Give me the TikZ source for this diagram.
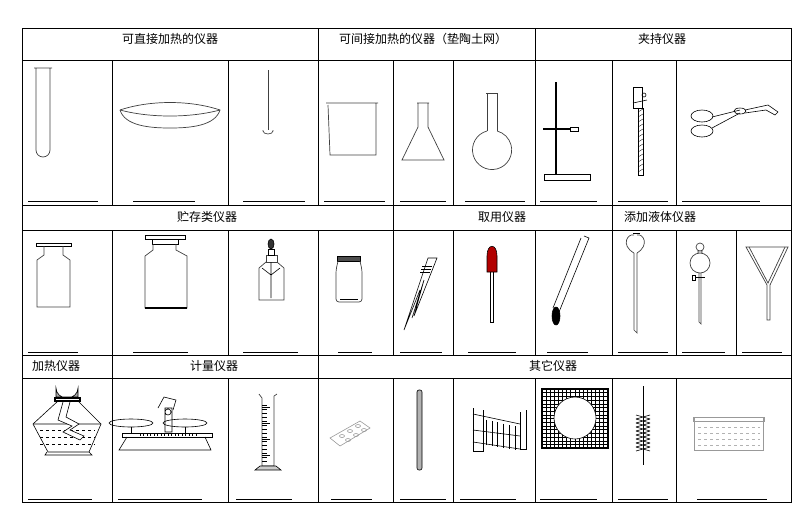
\documentclass[tikz,border=0pt]{standalone}
\usepackage{fontspec}
\setmainfont{Noto Sans CJK SC}
\begin{document}
\begin{tikzpicture}[x=1pt,y=-1pt,line width=0.6pt,
  grid/.style={line width=0.8pt},
  hd/.style={font=\fontsize{12}{14}\selectfont,inner sep=0pt},
  ans/.style={line width=0.6pt},
  glass/.style={line width=0.7pt,draw=black!75}]
\useasboundingbox (0,0) rectangle (810,528);
% table
\draw[grid] (22,28) rectangle (791,502);
\foreach \y in {60,205,230,355,378} \draw[grid] (22,\y) -- (791,\y);
\foreach \x in {318,535} \draw[grid] (\x,28) -- (\x,205);
\foreach \x in {112,228,393,453,612,676} \draw[grid] (\x,60) -- (\x,205);
\foreach \x in {393,612} \draw[grid] (\x,205) -- (\x,230);
\foreach \x in {112,228,318,393,453,535,612,676,736} \draw[grid] (\x,230) -- (\x,355);
\foreach \x in {112,318} \draw[grid] (\x,355) -- (\x,378);
\foreach \x in {112,228,318,393,453,535,612,676} \draw[grid] (\x,378) -- (\x,502);
% headers
\node[hd] (h1) at (170,39) {可直接加热的仪器};
\node[hd] (h2) at (423,39) {可间接加热的仪器（垫陶土网）};
\node[hd] (h3) at (662,39) {夹持仪器};
\node[hd] (h4) at (207,217) {贮存类仪器};
\node[hd] (h5) at (502,217) {取用仪器};
\node[hd] (h6) at (660,217) {添加液体仪器};
\node[hd] (h7) at (56,366) {加热仪器};
\node[hd] (h8) at (214,366) {计量仪器};
\node[hd] (h9) at (553,366) {其它仪器};
% answer lines
\foreach \a/\b in {28/98,133/195,243/305,324/385,400/446,465/525,540/597,618/668,682/760}
  \draw[ans] (\a,201) -- (\b,201);
\foreach \a/\b in {28/78,133/188,243/298,338/372,400/442,468/516,547/588,618/668,682/725,742/782}
  \draw[ans] (\a,352) -- (\b,352);
\foreach \a/\b in {28/92,118/202,236/292,331/372,400/446,460/516,540/597,618/668,697/767}
  \draw[ans] (\a,499) -- (\b,499);
% ---- row 1
\draw[glass] (34,68) -- (52,68) (36,68) -- (36,150) arc (180:0:7) -- (50,68);
\draw[glass] (120,110) .. controls (150,100) and (190,100) .. (220,110)
  .. controls (215,126) and (190,128) .. (170,128) .. controls (150,128) and (125,126) .. (120,110);
\draw[glass] (120,110) .. controls (150,118) and (190,118) .. (220,110);
\draw[glass] (268,70) -- (268,130);
\draw[glass] (263,130) -- (263,131) arc (180:0:5 and 3) -- (273,130);
\draw[glass] (326,103) -- (378,103) (328,105) -- (330,155) -- (376,155) -- (376,103);
\draw[glass] (417,103) -- (429,103) (418,103) -- (418,127) -- (402,160) -- (444,160) -- (428,127) -- (428,103);
\draw[glass] (486,93) -- (498,93) (487,93) -- (487,131) (497,93) -- (497,131);
\draw[glass] (487,131) arc (255:-75:19.6);
\draw[line width=1.2pt] (556,82) -- (556,175);
\draw (544,174) rectangle (590,180);
\draw[line width=1.2pt] (543,129) -- (570,129);
\draw (570,127) rectangle (578,131);
\draw (633,87) rectangle (642,108);
\draw (638,108) rectangle (643,175);
\foreach \i in {0,...,12} \draw[line width=0.3pt] (638,112+5*\i) -- (643,109+5*\i);
\draw (633,103) -- (647,100) (644,95) circle (2);
\draw (702,116) ellipse (11 and 6) (702,131) ellipse (11 and 6);
\draw (712,117) -- (740,110) (712,128) -- (740,113);
\draw (740,111) ellipse (6 and 3);
\draw (745,110) -- (768,105) -- (778,112) -- (775,115) -- (766,110) -- (745,113);
% ---- row 2
\draw (36,243) rectangle (71,246);
\draw[glass] (44,246) -- (44,255) -- (37,260) -- (37,307) -- (70,307) -- (70,260) -- (63,255) -- (63,246);
\draw (145,235) rectangle (185,239);
\draw (152,239) rectangle (178,244);
\draw[glass] (153,244) -- (153,250) -- (145,256) -- (145,308) -- (187,308) -- (187,256) -- (176,250) -- (176,244);
\draw[line width=1.2pt] (145,308) -- (187,308);
\draw[fill=black!80] (271,244) ellipse (3 and 5);
\draw[glass] (266,255) rectangle (277,262);
\draw (268,249) rectangle (274,255);
\draw[glass] (266,262) -- (259,268) -- (259,300) -- (284,300) -- (284,268) -- (277,262);
\draw (271,262) -- (271,298) (262,268) -- (271,275) -- (280,268);
\draw[fill=black!70] (337,256) rectangle (360,261);
\draw[glass,rounded corners=3pt] (338,261) -- (336,270) -- (336,302) -- (362,302) -- (362,270) -- (360,261);
\draw (340,299) -- (358,299);
\draw (404,330) -- (428,258) -- (437,258) -- (414,316) -- (424,280) -- (412,318) (404,330) -- (420,290);
\draw (422,266) -- (432,266) (421,269) -- (431,269) (420,272) -- (430,272);
\draw[fill=red!70!black] (487,272) -- (487,256) .. controls (487,243) and (497,243) .. (497,256) -- (497,272) -- cycle;
\draw (490,272) -- (490,322) -- (493,322) -- (493,272);
\draw (584,236) -- (589,238) -- (559,312) (581,238) -- (553,308);
\draw[fill=black] (556,316) ellipse (4 and 9);
\draw (633,233) -- (640,233);
\draw[glass] (634,253) -- (634,330) -- (637,333) -- (637,253);
\draw[glass] (634,253) .. controls (620,245) and (628,233) .. (634,235) (637,253) .. controls (650,245) and (643,233) .. (637,235);
\draw[glass] (700,263) circle (10) (700,247) circle (4) (698,251) rectangle (702,253);
\draw[glass] (699,273) -- (699,322) -- (701,324) -- (701,273);
\draw (692,275) rectangle (695,280) (695,277) -- (705,277);
\draw[glass] (746,247) -- (788,247) -- (770,285) -- (770,320) -- (767,320) -- (767,285) -- cycle;
\draw[glass] (749,247) -- (768,283) -- (785,247);
% ---- row 3
\draw[fill=gray!70] (56,397) -- (56,388) arc (180:0:11 and 10) -- (78,397) -- cycle;
\draw[line width=1.2pt] (55,398) rectangle (80,401);
\draw (58,401) -- (33,424) -- (48,452) -- (89,452) -- (101,424) -- (78,401);
\draw (33,424) -- (101,424) (47,452) -- (45,455) -- (92,455) -- (89,452);
\foreach \y in {430,437,444} \draw[dashed] (40,\y) -- (95,\y);
\draw[fill=white] (63,402) -- (58,420) -- (72,426) -- (63,432) -- (80,440) -- (84,436) -- (70,430) -- (79,424) -- (66,417) -- (70,402);
\draw (131,423) ellipse (22 and 4) (185,423) ellipse (22 and 4);
\draw (131,427) -- (131,433) (185,427) -- (185,433);
\draw (122,433) rectangle (212,437);
\foreach \i in {0,...,16} \draw[line width=0.3pt] (140+3.5*\i,433) -- (140+3.5*\i,436);
\draw (127,437) -- (119,450) -- (211,450) -- (205,437);
\draw (158,408) -- (164,397) -- (176,400) -- (173,410);
\draw (165,408) rectangle (172,432) (168,412) circle (3);
\draw[glass] (259,394) -- (262,398) -- (262,466) -- (274,466) -- (274,396) -- (277,394);
\foreach \i in {0,...,14} \draw[line width=0.3pt] (262,405+4*\i) -- (267,405+4*\i);
\foreach \i in {0,...,3} \draw[line width=0.3pt] (262,407+16*\i) -- (270,407+16*\i);
\draw[fill=gray!40] (255,470) -- (260,466) -- (276,466) -- (281,470) -- cycle;
\draw[draw=black!40] (330,438) -- (360,421) -- (370,428) -- (340,446) -- cycle;
\foreach \p in {(342,436),(350,431),(358,426),(348,440),(356,435),(364,430)} \draw[draw=black!40] \p ellipse (2.5 and 1.5);
\draw[fill=gray!60,rounded corners=2pt] (417,390) rectangle (422,470);
\draw (473,408) -- (473,451) -- (483,451) -- (483,410) (520,412) -- (520,449) -- (526,449) -- (526,410);
\draw (473,414) -- (520,424) (473,430) -- (520,436) (473,442) -- (520,449);
\foreach \i in {0,...,5} \draw (486+5.8*\i,420+1.2*\i) -- (486+5.8*\i,445+1*\i);
\draw[line width=1.6pt] (542,389) rectangle (608,448);
\foreach \i in {1,...,15} {\draw[line width=0.5pt] (542+4.1*\i,389) -- (542+4.1*\i,448);
  \draw[line width=0.5pt] (542,389+3.7*\i) -- (608,389+3.7*\i);}
\draw[fill=white] (575,418) circle (21);
\draw (643,386) -- (643,465);
\foreach \i in {0,...,8} \draw (636,415+4*\i) -- (650,419+4*\i) (650,415+4*\i) -- (636,419+4*\i);
\draw[black!40] (694,417) rectangle (763,450);
\draw[black!40] (693,417) rectangle (764,421);
\foreach \y in {427,433,439,445} \draw[black!30,dashed] (698,\y) -- (760,\y);
\end{tikzpicture}
\end{document}
